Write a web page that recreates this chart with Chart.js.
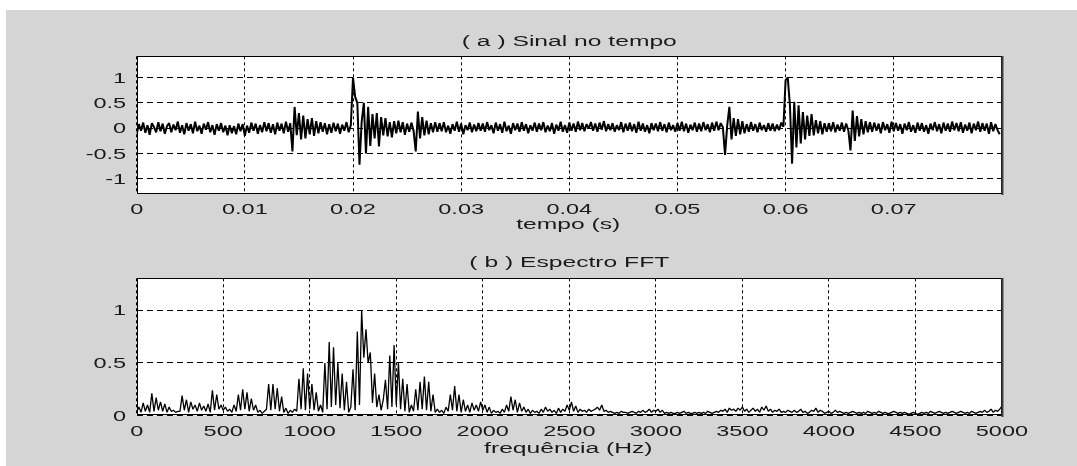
<!DOCTYPE html>
<html>
<head>
<meta charset="utf-8">
<script src="https://cdn.jsdelivr.net/npm/chart.js@4.4.1/dist/chart.umd.min.js"></script>
<style>
  html,body{margin:0;padding:0;background:#ffffff;width:1077px;height:466px;overflow:hidden;}
  #bg{position:absolute;left:6px;top:10px;right:0;bottom:0;background:#d5d5d5;}
  canvas{position:absolute;left:0;top:0;}
</style>
</head>
<body>
<div id="bg"></div>
<canvas id="c1" width="1077" height="466"></canvas>
<canvas id="c2" width="1077" height="466"></canvas>
<script>
// ---------- (a) Sinal no tempo ----------
const timeStep = 0.0002; // s between samples
const signalValues = [
 -.12,.08,-.05,.11,-.09,.06,-.13,.1,.02,-.08,.12,-.06,.09,-.11,.04,.1,-.08,.07,-.04,.13,
 -.09,.06,-.12,.1,-.05,.08,-.1,.13,-.06,.05,-.11,.09,-.03,.12,-.08,.06,-.13,.08,-.05,.1,
 -.08,.05,-.14,.06,-.1,.04,-.12,.09,-.06,.08,-.15,.05,-.09,.11,-.05,.09,-.11,.06,-.08,.12,
 -.06,.1,-.09,.08,-.12,.11,-.05,.09,-.1,.13,-.07,.1,-.46,.42,-.14,.3,-.22,.25,-.2,.18,
 -.12,.2,-.15,.14,-.1,.12,-.07,.1,-.12,.08,-.09,.11,-.06,.09,-.11,.07,-.05,.12,-.08,.06,
 1.0,.62,.5,-.72,.12,.5,-.5,.42,-.35,.28,-.2,.3,-.36,.22,-.14,.2,-.16,.12,-.18,.14,
 -.1,.15,-.08,.12,-.13,.09,-.07,.11,-.05,-.46,.33,-.2,.22,-.14,.15,-.12,.1,-.08,.12,-.07,
 .1,-.06,.12,-.08,.05,-.11,.08,-.05,.13,-.07,.09,-.12,.06,-.04,.11,-.08,.07,-.06,.1,-.05,
 .09,-.07,.12,-.04,.06,-.1,.11,-.05,.08,-.09,.13,-.06,.05,-.11,.1,-.04,.09,-.07,.12,-.05,
 .08,-.1,.06,-.05,.11,-.07,.09,-.04,.12,-.08,.05,-.06,.1,-.11,.07,-.05,.13,-.07,.06,-.09,
 .11,-.05,.09,-.07,.13,-.04,.1,-.06,.08,-.01,.12,-.05,.09,-.07,.11,-.03,.14,-.06,.08,-.04,
 .1,-.07,.06,-.04,.12,-.08,.09,-.05,.11,-.06,.08,-.09,.13,-.05,.09,-.07,.06,-.1,.1,-.04,
 .09,-.06,.12,-.05,.08,-.08,.11,-.04,.06,-.07,.1,-.05,.13,-.06,.09,-.09,.07,-.04,.11,-.07,
 .09,-.06,.12,-.04,.08,-.08,.11,-.05,.13,-.04,.1,.02,-.53,.05,.42,-.22,.2,-.15,.18,-.12,
 .14,-.1,.08,-.07,.12,-.05,.08,-.08,.11,-.04,.06,-.07,.1,-.05,.09,-.06,.07,-.04,.11,.03,
 .95,1.0,.45,-.7,.52,-.38,.45,-.3,.32,-.22,.25,-.15,.28,-.14,.16,-.1,.14,-.12,.1,-.07,
 .1,-.06,.12,-.08,.07,-.05,.11,-.07,.09,-.04,-.44,.35,-.25,.24,-.16,.18,-.12,.14,-.08,.12,
 -.07,.11,-.05,.09,-.1,.12,-.04,.08,-.09,.13,-.06,.1,-.05,.08,-.11,.09,-.04,.12,-.07,.06,
 -.09,.11,-.05,.1,-.07,.06,-.11,.09,-.04,.12,-.06,.08,-.1,.11,-.05,.09,-.07,.13,-.04,.1,
 -.06,.12,-.09,.07,-.05,.11,-.1,.09,-.04,.13,-.07,.1,-.05,.09,-.11,.12,-.06,.08,-.04,-.12
];
const timeTicks = [0,0.01,0.02,0.03,0.04,0.05,0.06,0.07,0.08];
const timeTickLabels = ['0','0.01','0.02','0.03','0.04','0.05','0.06','0.07',null];
const ampTicks = [-1,-0.5,0,0.5,1];
const ampTickLabels = ['-1','-0.5','0','0.5','1'];

// ---------- (b) Espectro FFT ----------
const freqStep = 12.5; // Hz between bins
const spectrumValues = [
 .03,.08,.03,.12,.04,.1,.03,.21,.04,.17,.05,.13,.04,.11,.03,.08,.04,.05,.03,.04,
 .04,.19,.05,.15,.03,.13,.06,.1,.04,.12,.05,.09,.04,.11,.03,.24,.05,.2,.06,.1,
 .05,.08,.04,.06,.03,.1,.04,.2,.05,.25,.06,.22,.04,.16,.05,.1,.03,.05,.02,.04,
 .06,.3,.05,.3,.06,.26,.04,.18,.03,.07,.02,.05,.03,.06,.04,.35,.06,.45,.05,.4,
 .06,.3,.05,.22,.04,.1,.03,.5,.06,.7,.08,.65,.1,.5,.07,.4,.05,.32,.03,.08,
 .44,.05,.8,.1,1.0,.55,.82,.5,.6,.12,.4,.08,.2,.05,.15,.34,.06,.57,.08,.67,
 .1,.5,.06,.35,.04,.3,.03,.1,.04,.25,.05,.32,.06,.37,.05,.32,.04,.2,.03,.06,
 .03,.05,.02,.08,.04,.2,.05,.28,.04,.2,.03,.15,.04,.1,.03,.12,.05,.1,.04,.13,
 .05,.1,.03,.08,.02,.05,.03,.04,.02,.06,.03,.1,.04,.18,.05,.15,.03,.12,.04,.08,
 .03,.06,.02,.05,.03,.04,.02,.06,.03,.08,.04,.06,.03,.05,.02,.07,.03,.06,.04,.1,
 .05,.13,.04,.09,.03,.06,.04,.05,.03,.06,.04,.05,.06,.08,.05,.1,.04,.05,.03,.04,
 .03,.02,.03,.02,.04,.03,.03,.02,.03,.04,.03,.02,.04,.03,.05,.03,.04,.06,.03,.05,
 .04,.06,.03,.05,.02,.03,.02,.03,.02,.02,.03,.02,.03,.04,.02,.03,.02,.02,.03,.02,
 .03,.02,.03,.02,.04,.03,.02,.03,.04,.03,.05,.04,.06,.03,.07,.05,.06,.04,.07,.05,
 .08,.04,.06,.03,.05,.07,.04,.06,.03,.08,.05,.09,.04,.06,.03,.05,.04,.06,.03,.04,
 .03,.05,.04,.03,.05,.03,.04,.06,.03,.04,.02,.03,.05,.04,.07,.03,.05,.04,.02,.03,
 .04,.02,.03,.05,.03,.04,.03,.02,.03,.02,.03,.04,.03,.02,.03,.02,.03,.02,.04,.03,
 .02,.03,.02,.04,.03,.02,.03,.02,.02,.03,.04,.03,.02,.03,.02,.03,.02,.01,.02,.03,
 .02,.01,.02,.03,.02,.03,.02,.04,.03,.02,.03,.04,.03,.02,.03,.02,.03,.04,.03,.02,
 .03,.04,.03,.02,.03,.02,.04,.03,.02,.03,.04,.03,.05,.03,.04,.06,.03,.05,.04,.06,
 .09
];
const freqTicks = [0,500,1000,1500,2000,2500,3000,3500,4000,4500,5000];
const freqTickLabels = ['0','500','1000','1500','2000','2500','3000','3500','4000','4500','5000'];
const magTicks = [0,0.5,1];
const magTickLabels = ['0','0.5','1'];

// ---------- helpers ----------
const FONT = '14px "Liberation Sans", Arial, Helvetica, sans-serif';
const TXT = '#1a1a1a';
function stretchedText(ctx, text, x, y, align, sx){
  ctx.save();
  ctx.translate(x, y);
  ctx.scale(sx, 1);
  ctx.textAlign = align;
  ctx.textBaseline = 'alphabetic';
  ctx.fillText(text, 0, 0);
  ctx.restore();
}
const matlabAxes = {
  id: 'matlabAxes',
  beforeDraw(chart){
    const ca = chart.chartArea, ctx = chart.ctx;
    ctx.save();
    ctx.fillStyle = '#ffffff';
    ctx.fillRect(ca.left, ca.top, ca.right - ca.left, ca.bottom - ca.top);
    ctx.restore();
  },
  afterDatasetsDraw(chart){
    const ca = chart.chartArea, ctx = chart.ctx;
    ctx.save();
    ctx.strokeStyle = '#000';
    ctx.lineWidth = 1;
    ctx.setLineDash([]);
    ctx.strokeRect(Math.round(ca.left)+0.5, Math.round(ca.top)+0.5, Math.round(ca.right-ca.left)-1, Math.round(ca.bottom-ca.top)-1);
    ctx.strokeStyle = '#404040';
    ctx.lineWidth = 2;
    ctx.beginPath();
    ctx.moveTo(Math.round(ca.right)+0.5, Math.round(ca.top));
    ctx.lineTo(Math.round(ca.right)+0.5, Math.round(ca.bottom)+1);
    ctx.stroke();
    ctx.restore();
  },
  afterDraw(chart, args, o){
    const ctx = chart.ctx, xs = chart.scales.x, ys = chart.scales.y, ca = chart.chartArea;
    ctx.save();
    ctx.fillStyle = TXT;
    ctx.font = FONT;
    const cx = (ca.left + ca.right) / 2;
    o.xTicks.forEach((v, i) => {
      const lab = o.xLabels[i];
      if (lab == null) return;
      stretchedText(ctx, lab, xs.getPixelForValue(v), o.xTickBase, 'center', o.sxTick);
    });
    o.yTicks.forEach((v, i) => {
      stretchedText(ctx, o.yLabels[i], ca.left - 10.5, ys.getPixelForValue(v) + 5, 'right', o.sxTick);
    });
    stretchedText(ctx, o.title, cx, o.titleBase, 'center', o.sxText);
    stretchedText(ctx, o.xTitle, cx - 1, o.xTitleBase, 'center', o.sxText);
    ctx.restore();
  }
};
function scaleOpts(min, max, ticks, dash, horizontal){
  return {
    type: 'linear', min: min, max: max,
    afterBuildTicks: s => { s.ticks = ticks.map(v => ({value: v})); },
    afterFit: s => { if (horizontal) s.height = 0; else s.width = 0; },
    ticks: {display: false},
    grid: {display: true, color: '#000', lineWidth: 1, drawTicks: false},
    border: {display: false, dash: dash}
  };
}
function makeChart(id, values, step, xr, yr, xt, yt, pad, lw, text){
  return new Chart(document.getElementById(id), {
    type: 'line',
    data: {datasets: [{
      data: values.map((v, i) => ({x: i * step, y: v})),
      borderColor: '#000', borderWidth: lw, pointRadius: 0, tension: 0,
      borderJoinStyle: 'bevel', fill: false
    }]},
    options: {
      responsive: false, animation: false, devicePixelRatio: 1,
      layout: {padding: pad},
      plugins: {legend: {display: false}, tooltip: {enabled: false}, matlabAxes: text},
      scales: {
        x: scaleOpts(xr[0], xr[1], xt, [3,3], true),
        y: scaleOpts(yr[0], yr[1], yt, [6,4], false)
      }
    },
    plugins: [matlabAxes]
  });
}

makeChart('c1', signalValues, timeStep, [0, 0.08], [-1.3, 1.42], timeTicks, ampTicks,
  {left: 136.7, right: 75.1, top: 56.3, bottom: 272},
  2.0,
  {xTicks: timeTicks, xLabels: timeTickLabels, yTicks: ampTicks, yLabels: ampTickLabels,
   xTickBase: 213.5, title: '( a ) Sinal no tempo', titleBase: 45.5,
   xTitle: 'tempo (s)', xTitleBase: 229, sxTick: 1.68, sxText: 1.76});

makeChart('c2', spectrumValues, freqStep, [0, 5000], [0, 1.306], freqTicks, magTicks,
  {left: 136.7, right: 75.1, top: 278.3, bottom: 50.5},
  1.3,
  {xTicks: freqTicks, xLabels: freqTickLabels, yTicks: magTicks, yLabels: magTickLabels,
   xTickBase: 435.5, title: '( b ) Espectro FFT', titleBase: 266.5,
   xTitle: 'frequência (Hz)', xTitleBase: 453, sxTick: 1.68, sxText: 1.76});
</script>
</body>
</html>
